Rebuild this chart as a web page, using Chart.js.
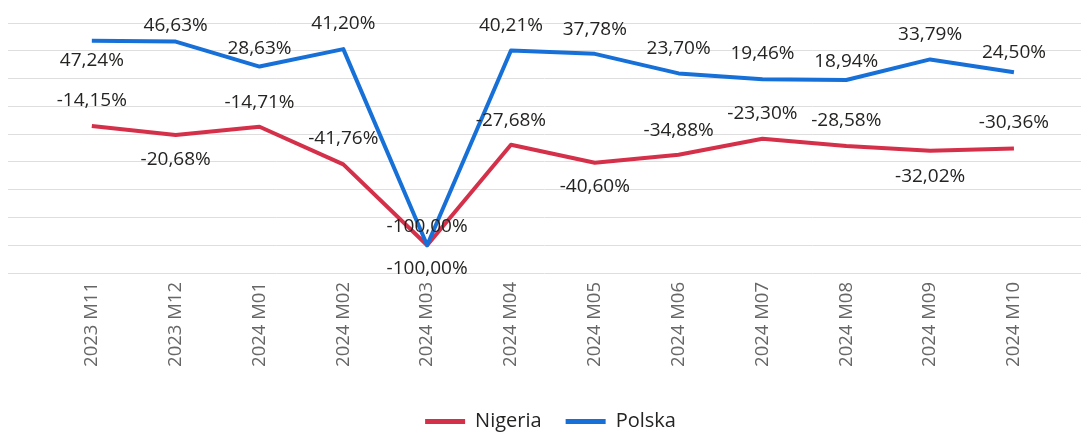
<!DOCTYPE html>
<html><head><meta charset="utf-8">
<script src="https://cdn.jsdelivr.net/npm/chart.js@4.4.1/dist/chart.umd.min.js"></script>
<style>html,body{margin:0;padding:0;background:#fff;overflow:hidden;} #wrap{width:1081px;height:433px;}</style>
</head><body><div id="wrap"><canvas id="c" width="1081" height="433"></canvas></div>
<script>
const categories = ['2023 M11','2023 M12','2024 M01','2024 M02','2024 M03','2024 M04','2024 M05','2024 M06','2024 M07','2024 M08','2024 M09','2024 M10'];
const nigeria = [-14.15,-20.68,-14.71,-41.76,-100.00,-27.68,-40.60,-34.88,-23.30,-28.58,-32.02,-30.36];
const polska = [47.24,46.63,28.63,41.20,-100.00,40.21,37.78,23.70,19.46,18.94,33.79,24.50];
const yTicks = [-120,-100,-80,-60,-40,-20,0,20,40,60];

// label placement (style only): vertical offset of label centre from point, px
const nigeriaLabelOffset = [-27,23,-26,-27,-20,-26,22,-26,-27,-27,24,-28];
const polskaLabelOffset = [18,-18,-20,-27,22,-26,-26,-26,-27,-20,-26,-21];

const FONT = '"Segoe UI", "Open Sans", sans-serif';
const fmt = v => v.toFixed(2).replace('.', ',') + '%';

const labelPlugin = {
  id: 'pointLabels',
  afterDatasetsDraw(chart) {
    const ctx = chart.ctx;
    ctx.save();
    ctx.font = '19px ' + FONT;
    ctx.fillStyle = '#252423';
    ctx.textAlign = 'center';
    ctx.textBaseline = 'alphabetic';
    chart.data.datasets.forEach((ds, di) => {
      const meta = chart.getDatasetMeta(di);
      meta.data.forEach((pt, i) => {
        const v = ds.data[i].y;
        ctx.fillText(fmt(v), pt.x, pt.y + ds.labelOffsets[i] + 7);
      });
    });
    ctx.restore();
  }
};

const legendShift = {
  id: 'legendShift',
  afterLayout(chart) {
    if (chart.legend) { chart.legend.left += 6; chart.legend.right += 6; }
  }
};

new Chart(document.getElementById('c'), {
  type: 'line',
  data: {
    datasets: [
      { label: 'Polska', data: polska.map((v,i)=>({x:i,y:v})), borderColor: '#1670D8', backgroundColor: '#1670D8',
        borderWidth: 4, pointRadius: 0, tension: 0, borderJoinStyle: 'round', labelOffsets: polskaLabelOffset },
      { label: 'Nigeria', data: nigeria.map((v,i)=>({x:i,y:v})), borderColor: '#D5304A', backgroundColor: '#D5304A',
        borderWidth: 4, pointRadius: 0, tension: 0, borderJoinStyle: 'round', labelOffsets: nigeriaLabelOffset }
    ]
  },
  options: {
    responsive: false,
    devicePixelRatio: 1,
    animation: false,
    layout: { padding: { left: 8, right: 0, top: 23, bottom: -8.5 } },
    plugins: {
      tooltip: { enabled: false },
      legend: {
        position: 'bottom',
        reverse: true,
        labels: {
          boxWidth: 40, boxHeight: 5, padding: 24, color: '#252423',
          font: { family: FONT, size: 20 },
          generateLabels(chart) {
            const items = Chart.defaults.plugins.legend.labels.generateLabels(chart);
            items.forEach(it => { it.lineWidth = 0; it.fillStyle = it.strokeStyle; });
            return items;
          }
        }
      }
    },
    scales: {
      x: {
        type: 'linear', min: -1, max: 11.8,
        afterBuildTicks(scale) { scale.ticks = categories.map((c,i)=>({value:i})); },
        afterFit(scale) { scale.height = 114.5; },
        grid: { display: false, drawTicks: false },
        border: { display: false },
        ticks: {
          autoSkip: false, maxRotation: 90, minRotation: 90, padding: 9,
          color: '#666666', font: { family: FONT, size: 18.5 },
          callback: v => categories[v] ?? ''
        }
      },
      y: {
        type: 'linear', min: -120, max: 60,
        afterBuildTicks(scale) { scale.ticks = yTicks.map(v=>({value:v})); },
        grid: { color: '#DEDEDE', lineWidth: 1, drawTicks: false },
        border: { display: false },
        ticks: { display: false }
      }
    }
  },
  plugins: [labelPlugin, legendShift]
});
</script>
</body></html>
